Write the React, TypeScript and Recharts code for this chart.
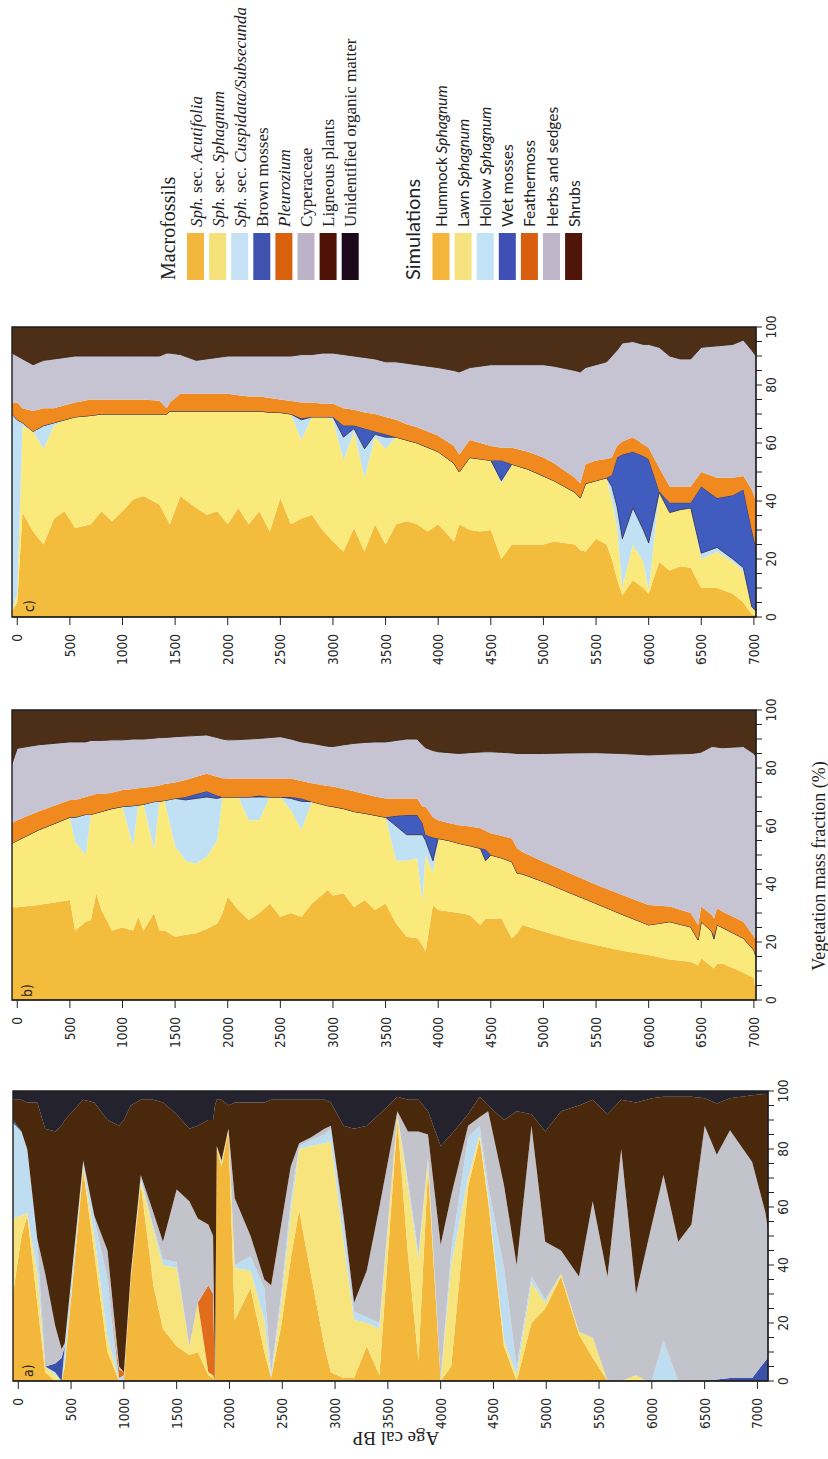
import { AreaChart, Area, XAxis, YAxis, ReferenceArea } from "recharts";

// ---- shared axis ticks ----
const AGE_TICKS = [0, 500, 1000, 1500, 2000, 2500, 3000, 3500, 4000, 4500, 5000, 5500, 6000, 6500, 7000];
const PCT_TICKS = [0, 5, 10, 15, 20, 25, 30, 35, 40, 45, 50, 55, 60, 65, 70, 75, 80, 85, 90, 95, 100];

// ---- legend names ----
const macroNames = [
  "Sph. sec. Acutifolia",
  "Sph. sec. Sphagnum",
  "Sph. sec. Cuspidata/Subsecunda",
  "Brown mosses",
  "Pleurozium",
  "Cyperaceae",
  "Ligneous plants",
  "Unidentified organic matter",
];
const simNames = [
  "Hummock Sphagnum",
  "Lawn Sphagnum",
  "Hollow Sphagnum",
  "Wet mosses",
  "Feathermoss",
  "Herbs and sedges",
  "Shrubs",
];
const ITALIC = new Set(["Sph.", "Acutifolia", "Sphagnum", "Cuspidata/Subsecunda", "Pleurozium"]);

// ---- panel c : simulation (upper bound of each layer, cumulative %) ----
const cAge = [
  -50, 0, 50, 150, 250, 350, 450, 550, 700, 800,
  900, 1000, 1100, 1200, 1350, 1420, 1450, 1550, 1700, 1800,
  1900, 2000, 2100, 2200, 2300, 2400, 2500, 2600, 2700, 2800,
  2900, 3000, 3100, 3200, 3300, 3400, 3500, 3600, 3700, 3800,
  3900, 4000, 4150, 4200, 4300, 4400, 4500, 4600, 4700, 4850,
  5000, 5100, 5300, 5350, 5400, 5500, 5600, 5650, 5700, 5750,
  5850, 5950, 6000, 6100, 6200, 6300, 6400, 6500, 6650, 6800,
  6900, 6980, 7020,
];
const cHummock = [
  2, 5, 36, 29.5, 25, 34, 36.5, 30.7, 32, 36.5,
  33, 36.5, 40.5, 41.7, 38.8, 34, 32, 41.7, 37.6, 35.3,
  36.5, 32, 37.6, 32, 36.5, 29.5, 41, 32, 34, 35.3,
  30, 26, 22.6, 30.7, 22.6, 32, 25, 32, 33, 32,
  29.5, 32, 26, 32, 30, 29.5, 30, 20, 25, 25,
  25, 26, 25, 23, 22.6, 27, 25, 20, 13, 7.5,
  12.7, 10, 8, 19, 16, 17.5, 17, 10, 10, 8,
  5, 1, 0.5,
];
const cLawn = [
  2, 8, 66, 64, 58, 66, 68, 69, 69.5, 70,
  70, 70, 70, 70, 70, 70, 71, 71, 71, 71,
  71, 71, 71, 71, 71, 70.6, 70.5, 70, 61, 69,
  69, 68, 54, 64, 48, 62, 58, 62, 61, 60,
  58.5, 57, 53, 50, 55, 54.5, 54, 46, 52.7, 51,
  48.6, 47, 43, 41, 46, 47, 48, 40, 30.7, 10,
  25, 19, 9, 43, 36, 37, 37.6, 20, 22.5, 19,
  15.6, 3.5, 2,
];
const cHollow = [
  70, 68, 67, 64, 66, 67, 68, 69, 69.5, 70,
  70, 70, 70, 70, 70, 70, 71, 71, 71, 71,
  71, 71, 71, 71, 71, 70.6, 70.5, 70, 68, 69,
  69, 69, 62, 65, 58, 63, 62, 62, 61, 60,
  58.5, 57, 53, 50, 55, 54.5, 54, 47, 52.7, 51,
  48.6, 47, 43, 41, 46, 47, 48, 45, 38, 27,
  37.6, 30, 25.5, 43, 36, 37, 37.6, 22, 24, 20,
  17, 3.5, 2,
];
const cWet = [
  70, 68, 67, 64, 66, 67, 68, 69, 69.5, 70,
  70, 70, 70, 70, 70, 70, 71, 71, 71, 71,
  71, 71, 71, 71, 71, 70.6, 70.5, 70, 68.5, 69,
  69, 69, 66, 66, 65, 64, 63, 62, 61, 60,
  58.5, 57, 53, 50, 55, 54.5, 54, 54, 52.7, 51,
  48.6, 47, 43, 41, 46, 47, 48, 49, 55, 56,
  57, 55.5, 54.4, 43.4, 39.4, 39.4, 39.4, 45, 41, 42,
  44, 30, 24,
];
const cFeather = [
  74, 74, 72, 71, 72, 72, 73, 74, 75, 75,
  75, 75, 75, 75, 74.6, 72, 74, 77, 77, 77,
  77, 77, 76.5, 76, 76, 75.5, 75, 74.5, 74, 74,
  73.5, 73.5, 72, 71.5, 70.5, 70, 69, 68, 66.5, 65.4,
  64, 62.5, 59, 56, 61, 60, 59, 58.4, 58.4, 57,
  55, 53, 48, 46, 52.7, 54, 54.5, 55, 59, 60.5,
  62, 59.5, 58.4, 51.5, 45, 45, 45, 50, 48, 48,
  48.6, 44, 40,
];
const cHerbs = [
  91, 90, 89, 87, 88.5, 89, 89.5, 90, 90, 90,
  90, 90, 90, 90, 90, 91, 91, 90.5, 88.5, 89,
  89.5, 90, 90, 90, 90, 90, 90, 90, 90.5, 90.5,
  91, 91, 90.5, 90, 89.5, 89, 88, 88, 87.5, 87,
  86.5, 86, 85, 84.5, 86, 86.5, 87, 87, 87, 87,
  87, 86.5, 85, 84.5, 86, 87, 88, 90, 92, 94.5,
  95, 94, 94, 93, 90, 89, 89, 93, 93.5, 94,
  95.5, 92, 90,
];

// ---- panel b : simulation (upper bound of each layer, cumulative %) ----
const bAge = [
  -50, 0, 200, 500, 550, 650, 700, 750, 800, 900,
  1000, 1100, 1150, 1200, 1300, 1350, 1400, 1500, 1600, 1700,
  1800, 1900, 1950, 2000, 2100, 2200, 2300, 2400, 2500, 2600,
  2700, 2800, 2950, 3000, 3100, 3200, 3300, 3400, 3500, 3600,
  3700, 3800, 3850, 3880, 3950, 4000, 4100, 4200, 4300, 4400,
  4450, 4500, 4600, 4700, 4750, 4800, 5000, 5250, 5500, 5750,
  6000, 6200, 6400, 6470, 6500, 6600, 6620, 6650, 6700, 6900,
  7000, 7020,
];
const bHummock = [
  32, 32, 32.8, 34.5, 24, 27, 27.6, 36.8, 31, 24,
  25, 24, 28.7, 24, 30, 24, 24, 21.8, 22.5, 23,
  24.5, 26.4, 30, 35.6, 31, 27.6, 30, 33.3, 28.7, 30,
  28.7, 33.3, 37.9, 36, 36.8, 32, 34.5, 31, 33.3, 26.4,
  21.8, 21.3, 19, 16.7, 32.8, 31, 30.5, 30, 29.3, 25.9,
  28, 28, 28.2, 21.3, 23, 25.9, 23.6, 21, 19, 17,
  15.5, 14, 13.2, 12, 14.4, 11.5, 10.9, 12.5, 12.6, 9.5,
  7.5, 2,
];
const bLawn = [
  54, 55, 58.6, 63, 54.6, 50, 64, 64.5, 65, 66,
  66.7, 53, 67.2, 67.5, 51.7, 68.5, 68.8, 53, 48, 47,
  49.4, 55, 70, 70, 70, 62, 62, 70, 70, 65.5,
  58.6, 68.4, 67, 66.7, 66, 65, 64.4, 63.7, 63, 48,
  48, 48.9, 34, 50, 44, 55.7, 55, 54, 53.2, 52.3,
  48, 50, 49, 47.7, 43.7, 43.5, 40.8, 37, 33.3, 29.5,
  25.9, 27, 25.2, 20.7, 27, 23.6, 21, 25.9, 25, 21.3,
  17.2, 15,
];
const bHollow = [
  54, 55, 58.6, 63, 63, 64, 64, 64.5, 65, 66,
  66.7, 67, 67.2, 67.5, 68.4, 68.5, 68.8, 69.5, 69, 69.5,
  70, 69.5, 70, 70, 70, 70, 70, 70, 70, 69.5,
  68.5, 68.4, 67, 66.7, 66, 65, 64.4, 63.7, 63, 60,
  57, 57, 57, 55, 48, 55.7, 55, 54, 53.2, 52.3,
  48, 50, 49, 47.7, 43.7, 43.5, 40.8, 37, 33.3, 29.5,
  25.9, 27, 25.2, 20.7, 27, 23.6, 21, 25.9, 25, 21.3,
  17.2, 15,
];
const bWet = [
  54, 55, 58.6, 63, 63, 64, 64, 64.5, 65, 66,
  66.7, 67, 67.2, 67.5, 68.4, 68.5, 68.8, 69.5, 70, 71,
  72, 70.5, 70, 70, 70, 70, 70.5, 70, 70, 70,
  69.5, 68.4, 67, 66.7, 66, 65, 64.4, 63.7, 63, 63.5,
  63.8, 63.8, 61, 57, 56, 55.7, 55, 54, 53.2, 52.3,
  52, 50, 49, 47.7, 43.7, 43.5, 40.8, 37, 33.3, 29.5,
  25.9, 27, 25.2, 20.7, 27, 23.6, 22, 25.9, 25, 21.3,
  17.2, 15,
];
const bFeather = [
  61, 62, 65, 69, 69, 70, 70.5, 71, 71, 71.5,
  72.4, 72.8, 73, 73.2, 73.6, 74, 74.5, 75, 75.9, 77,
  78, 77, 76.5, 76.4, 76.4, 76.4, 76.4, 76.4, 76.4, 76.4,
  75.5, 74.7, 73.8, 73.6, 72.8, 72, 71, 70.2, 69.5, 69.5,
  69.5, 69.5, 66.7, 66.7, 63, 62, 61, 60.3, 59.8, 59.2,
  58.4, 57.5, 56.6, 55.7, 52.3, 51, 47.7, 43.7, 39.7, 36.2,
  32.8, 32.2, 30, 25.9, 32.2, 29.3, 28, 31.6, 30.5, 27,
  21.8, 21,
];
const bHerbs = [
  81.5, 86.8, 88, 89, 89, 89, 89.5, 89.5, 89.5, 89.7,
  89.7, 90, 90, 90, 90.3, 90.5, 90.5, 90.8, 91, 91.2,
  91.4, 90.5, 90, 89.7, 89.8, 90, 90.2, 90.5, 90.8, 90,
  89, 88.5, 87.5, 87.4, 88, 88.5, 88.8, 89, 89, 89.5,
  90, 90, 88, 87, 86, 85.6, 85.3, 85, 85.3, 85.5,
  85.6, 85.6, 85.4, 85.2, 85, 85, 85, 85.2, 85.3, 85,
  84.5, 84.8, 85, 85.3, 85.5, 87.4, 87.4, 87.2, 87, 87.4,
  85, 84,
];

// ---- panel a : macrofossils (upper bound of each layer, cumulative %) ----
const aAge = [
  -50, 30, 85, 180, 255, 350, 410, 440, 615, 720,
  845, 955, 1000, 1065, 1160, 1280, 1370, 1500, 1620, 1700,
  1800, 1845, 1862, 1880, 1925, 1990, 2050, 2200, 2330, 2395,
  2490, 2580, 2660, 2770, 2900, 2960, 3080, 3180, 3300, 3420,
  3590, 3690, 3790, 3880, 4000, 4100, 4260, 4370, 4450, 4600,
  4720, 4860, 4990, 5140, 5310, 5440, 5580, 5710, 5850, 5950,
  6000, 6110, 6250, 6375, 6500, 6615, 6740, 6950, 7076, 7100,
];
const aAcutifolia = [
  30, 50, 57, 27, 3, 0, 0, 5, 73, 44,
  10, 0, 0, 35, 68, 33, 18, 12, 9, 10,
  2, 1, 0, 80, 74, 86, 21, 32, 10, 1,
  19, 42, 59, 37, 12, 3, 1, 1, 12, 2,
  90, 44, 7, 73, 0, 5, 67, 83.6, 62, 12,
  0, 20, 25, 36, 16, 8, 0, 0, 0, 0,
  0, 0, 0, 0, 0, 0, 0, 0, 0, 0,
];
const aSphagnum = [
  56, 57, 58, 37, 5, 2, 0, 6, 74, 50,
  15, 0, 0, 36, 69, 52, 40, 39, 12, 27,
  3, 2, 0, 81, 75, 87, 39, 38, 21, 1,
  27, 58, 80, 81, 82, 82.5, 48, 21, 20, 18,
  92, 67, 42, 76, 0, 40, 70, 85, 64, 14,
  2, 34, 27, 37, 17, 15, 0, 0, 2, 0,
  0, 0, 0, 0, 0, 0, 0, 0, 0, 0,
];
const aCuspidata = [
  89, 86, 79, 48, 5, 3, 0, 12, 75, 56,
  35, 1, 2, 36, 70, 53, 42, 41, 12, 27,
  3, 2, 0, 81, 75, 87, 40, 43, 32, 3,
  30, 62, 81, 83, 85, 87, 54, 24, 22, 20,
  92, 69, 44, 77, 0.5, 45, 84, 88, 67.5, 39,
  5, 36, 28, 37, 17, 15, 0, 0, 2, 0,
  0, 14, 0, 0, 0, 0, 0, 0, 0, 0,
];
const aBrownMosses = [
  90, 86, 79, 48, 5, 6, 8, 12, 75, 56,
  35, 1, 2, 36, 70, 53, 42, 41, 12, 27,
  3, 2, 0, 81, 75, 87, 40, 43, 32, 3,
  30, 62, 81, 83, 85, 87, 54, 24, 22, 20,
  92, 69, 44, 77, 0.5, 45, 84, 88, 67.5, 39,
  5, 36, 28, 37, 17, 15, 0, 0, 2, 0,
  0, 14, 0, 0, 0, 0.5, 1, 1, 7, 8,
];
const aPleurozium = [
  90, 86, 79, 48, 5, 6, 8, 12, 75, 56,
  35, 4, 3, 36, 70, 53, 42, 41, 12, 27,
  33, 30, 0, 81, 75, 87, 40, 43, 32, 3,
  30, 62, 81, 83, 85, 87, 54, 24, 22, 20,
  92, 69, 44, 77, 0.5, 45, 84, 88, 67.5, 39,
  5, 36, 28, 37, 17, 15, 0, 0, 2, 0,
  0, 14, 0, 0, 0, 0.5, 1, 1, 7, 8,
];
const aCyperaceae = [
  90, 86, 80, 49, 37, 19, 11, 13, 76, 57,
  45, 5, 3, 37, 71, 58, 48, 66, 62, 56,
  54, 50, 1, 81, 76, 87, 63, 50, 35, 33,
  54, 74, 82, 84, 87, 88, 57, 27, 38, 60,
  93, 86, 86, 85, 47, 64, 88, 91, 93, 67.5,
  40, 88, 48, 45, 36, 62, 36, 80, 30, 46,
  54, 71, 48, 54, 88, 78, 86.5, 75.5, 58, 52,
];
const aLigneous = [
  97, 97, 96, 96, 87, 86, 88, 90, 97, 96,
  90, 88, 90, 95, 97, 97, 96, 92, 87, 88,
  90, 90, 95, 97, 97, 95, 96, 96, 96, 97,
  97, 97, 97, 97, 97, 96, 88, 87, 88, 92,
  98, 97, 97, 93, 81, 85, 92, 98, 95, 90,
  93, 92, 86, 93, 95, 97, 92, 97, 96, 97,
  97.5, 98, 98, 98, 97.5, 95.7, 97.5, 98.5, 99, 99,
];

const SIM_KEYS = ["hummock", "lawn", "hollow", "wet", "feather", "herbs", "shrubs"];
const SIM_COLORS = ["#F4BC3C", "#FAEA7C", "#C0E0F4", "#3F5CBE", "#F0891E", "#C6C3D3", "#4D2F17"];
const SIM_STROKES = ["none", "none", "none", "#3a3350", "none", "none", "#3a2210"];
const MACRO_KEYS = ["acutifolia", "sphagnum", "cuspidata", "brown", "pleurozium", "cyperaceae", "ligneous", "unidentified"];
const MACRO_COLORS = ["#F3B73B", "#F7E47C", "#BEDDF1", "#3B50A8", "#E06C1C", "#C3C3CB", "#4A280B", "#24222C"];
const MACRO_STROKES = ["none", "none", "none", "none", "none", "none", "none", "none"];
const LEGEND_MACRO = ["#F4B73E", "#F5E07A", "#C4E2F4", "#3F52B0", "#D9610E", "#BDB3C6", "#4E1206", "#1C0A1C"];
const LEGEND_SIM = ["#F5B53A", "#F6E27E", "#C2E2F6", "#3F4FB5", "#D95F10", "#BEB6C8", "#4E1508"];

// each layer becomes a [lower, upper] range; the last one reaches 100 %
function buildRows(age: number[], tops: number[][], keys: string[]) {
  return age.map((a, i) => {
    const row: Record<string, any> = { age: a };
    let prev = 0;
    keys.forEach((k, j) => {
      const top = j < tops.length ? tops[j][i] : 100;
      row[k] = [prev, top];
      prev = top;
    });
    return row;
  });
}

const cRows = buildRows(cAge, [cHummock, cLawn, cHollow, cWet, cFeather, cHerbs], SIM_KEYS);
const bRows = buildRows(bAge, [bHummock, bLawn, bHollow, bWet, bFeather, bHerbs], SIM_KEYS);
const aRows = buildRows(
  aAge,
  [aAcutifolia, aSphagnum, aCuspidata, aBrownMosses, aPleurozium, aCyperaceae, aLigneous],
  MACRO_KEYS
);

const TICK_FONT = '"DejaVu Sans Condensed", "DejaVu Sans", sans-serif';
const SERIF = '"Liberation Serif", "DejaVu Serif", serif';
const SANS = 'Lato, "Open Sans", sans-serif';

function AgeTick(props: any) {
  const { x, y, payload } = props;
  return (
    <text
      x={x}
      y={y}
      transform={`rotate(-90 ${x} ${y})`}
      textAnchor="end"
      dominantBaseline="central"
      fontFamily={TICK_FONT}
      fontSize={13.5}
      fill="#2a2a2a"
    >
      {payload.value}
    </text>
  );
}

function PctTick(props: any) {
  const { x, y, payload } = props;
  if (payload.value % 20 !== 0) return <g />;
  const cx = x + 7;
  return (
    <text
      x={cx}
      y={y}
      transform={`rotate(-90 ${cx} ${y})`}
      textAnchor="middle"
      dominantBaseline="central"
      fontFamily={TICK_FONT}
      fontSize={13.5}
      fill="#2a2a2a"
    >
      {payload.value}
    </text>
  );
}

type PanelProps = {
  top: number;
  marginTop: number;
  left: number;
  right: number;
  domain: [number, number];
  rows: any[];
  keys: string[];
  colors: string[];
  strokes: string[];
};

function Panel({ top, marginTop, left, right, domain, rows, keys, colors, strokes }: PanelProps) {
  const height = marginTop + 290 + 55;
  return (
    <div style={{ position: "absolute", left: 0, top, width: 828, height }}>
      <AreaChart
        width={828}
        height={height}
        data={rows}
        margin={{ top: marginTop, right, bottom: 5, left }}
      >
        <XAxis
          type="number"
          dataKey="age"
          domain={domain}
          allowDataOverflow
          ticks={AGE_TICKS}
          interval={0}
          tick={AgeTick}
          tickSize={8}
          tickMargin={9}
          height={50}
          stroke="#222"
        />
        <YAxis
          orientation="right"
          type="number"
          domain={[0, 100]}
          allowDataOverflow
          ticks={PCT_TICKS}
          interval={0}
          tick={PctTick}
          tickSize={6}
          tickMargin={2}
          width={50}
          stroke="#222"
        />
        {keys.map((k, i) => (
          <Area
            key={k}
            dataKey={k}
            type="linear"
            fill={colors[i]}
            fillOpacity={1}
            stroke={strokes[i]}
            strokeWidth={0.9}
            dot={false}
            activeDot={false}
            isAnimationActive={false}
          />
        ))}
        <ReferenceArea
          x1={domain[0]}
          x2={domain[1]}
          y1={0}
          y2={100}
          fill="none"
          stroke="#1e1e1e"
          strokeWidth={1.4}
          ifOverflow="visible"
          zIndex={1000}
        />
      </AreaChart>
    </div>
  );
}

function LabelText({ name }: { name: string }) {
  const words = name.split(" ");
  return (
    <>
      {words.map((w, i) => (
        <tspan key={i} fontStyle={ITALIC.has(w) ? "italic" : "normal"}>
          {(i > 0 ? " " : "") + w}
        </tspan>
      ))}
    </>
  );
}

function Overlay() {
  const macroX0 = 195.5;
  const simX0 = 441;
  const step = 22.1;
  return (
    <svg
      width={828}
      height={1459}
      style={{ position: "absolute", left: 0, top: 0, pointerEvents: "none" }}
    >
      {/* Macrofossils legend */}
      <text
        x={168}
        y={280}
        transform="rotate(-90 168 280)"
        dominantBaseline="central"
        fontFamily={SERIF}
        fontSize={20}
        fill="#222"
      >
        Macrofossils
      </text>
      {macroNames.map((n, i) => {
        const cx = macroX0 + i * step;
        return (
          <g key={n}>
            <rect x={cx - 8.5} y={233} width={17} height={47} fill={LEGEND_MACRO[i]} />
            <text
              x={cx}
              y={227}
              transform={`rotate(-90 ${cx} 227)`}
              dominantBaseline="central"
              fontFamily={SERIF}
              fontSize={17}
              fill="#222"
            >
              <LabelText name={n} />
            </text>
          </g>
        );
      })}

      {/* Simulations legend */}
      <text
        x={412}
        y={280}
        transform="rotate(-90 412 280)"
        dominantBaseline="central"
        fontFamily={SANS}
        fontSize={20}
        fill="#222"
      >
        Simulations
      </text>
      {simNames.map((n, i) => {
        const cx = simX0 + i * step;
        return (
          <g key={n}>
            <rect x={cx - 8.5} y={233} width={17} height={47} fill={LEGEND_SIM[i]} />
            <text
              x={cx}
              y={227}
              transform={`rotate(-90 ${cx} 227)`}
              dominantBaseline="central"
              fontFamily={SANS}
              fontSize={15.5}
              fill="#222"
            >
              <LabelText name={n} />
            </text>
          </g>
        );
      })}

      {/* panel letters */}
      <text x={29} y={612} transform="rotate(-90 29 612)" dominantBaseline="central" fontFamily={TICK_FONT} fontSize={14} fill="#222">
        c)
      </text>
      <text x={27} y={997} transform="rotate(-90 27 997)" dominantBaseline="central" fontFamily={TICK_FONT} fontSize={14} fill="#222">
        b)
      </text>
      <text x={28} y={1377} transform="rotate(-90 28 1377)" dominantBaseline="central" fontFamily={TICK_FONT} fontSize={14} fill="#222">
        a)
      </text>

      {/* axis titles */}
      <text
        x={819}
        y={866}
        transform="rotate(-90 819 866)"
        textAnchor="middle"
        dominantBaseline="central"
        fontFamily={SERIF}
        fontSize={18}
        fill="#222"
      >
        Vegetation mass fraction (%)
      </text>
      <text
        x={396}
        y={1438}
        transform="rotate(180 396 1438)"
        textAnchor="middle"
        dominantBaseline="central"
        fontFamily={SERIF}
        fontSize={19}
        fill="#222"
      >
        Age cal BP
      </text>
    </svg>
  );
}

export default function App() {
  return (
    <div style={{ position: "absolute", left: 0, top: 0, width: 828, height: 1459, background: "#fff" }}>
      <Panel top={300} marginTop={27} left={12} right={22} domain={[-50, 7020]} rows={cRows} keys={SIM_KEYS} colors={SIM_COLORS} strokes={SIM_STROKES} />
      <Panel top={680} marginTop={30} left={12} right={22} domain={[-50, 7020]} rows={bRows} keys={SIM_KEYS} colors={SIM_COLORS} strokes={SIM_STROKES} />
      <Panel top={1060} marginTop={31} left={13} right={10} domain={[-50, 7100]} rows={aRows} keys={MACRO_KEYS} colors={MACRO_COLORS} strokes={MACRO_STROKES} />
      <Overlay />
    </div>
  );
}
